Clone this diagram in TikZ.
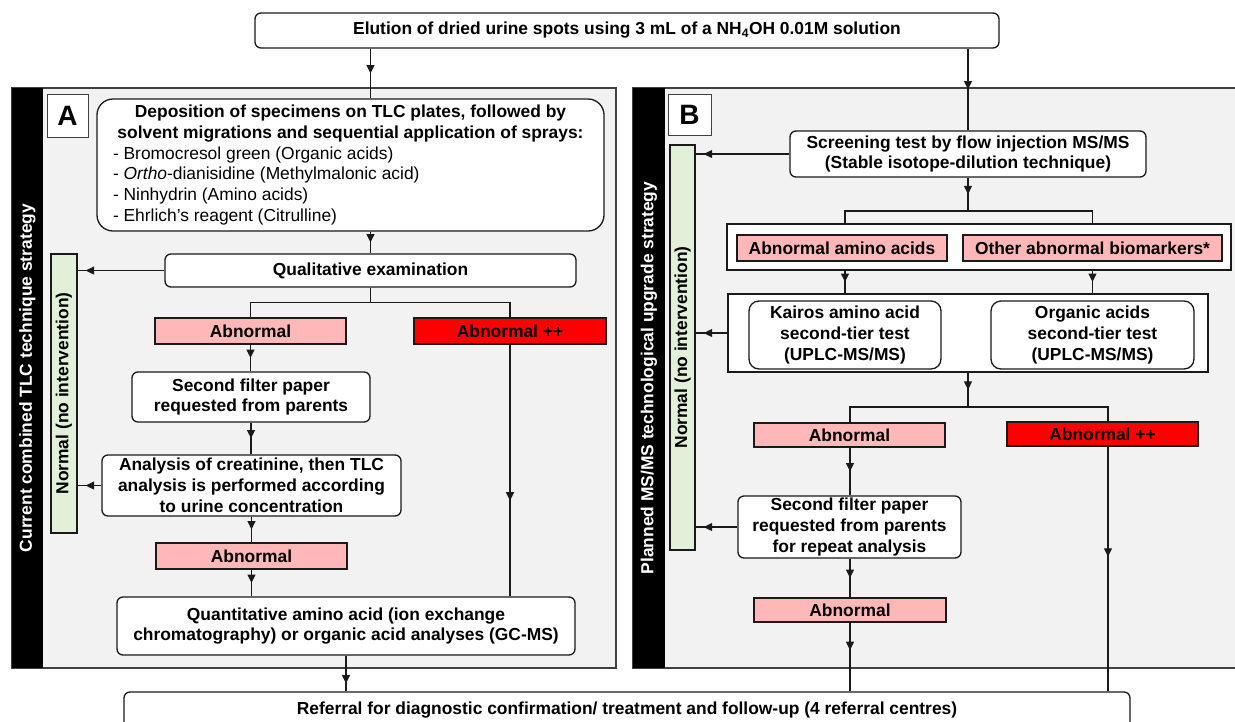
\documentclass[tikz,border=0pt]{standalone}
\usepackage{fontspec}
\setmainfont{Liberation Sans}
\usetikzlibrary{arrows.meta,decorations.markings,calc}
\definecolor{pinkc}{HTML}{FFB7B7}
\definecolor{redc}{HTML}{FF0000}
\definecolor{greenc}{HTML}{E2F0D9}
\definecolor{panelc}{HTML}{F2F2F2}
\definecolor{linec}{HTML}{1A1A1A}
\tikzset{
  every node/.style={font=\fontsize{17.4}{20.8}\selectfont\bfseries, inner sep=0pt, text=black},
  rbox/.style={draw=linec, line width=1.3pt, fill=white, rounded corners=6pt, align=center},
  pinkbox/.style={draw=linec, line width=1.3pt, fill=pinkc},
  redbox/.style={draw=linec, line width=1.3pt, fill=redc},
  framebox/.style={draw=linec, line width=1.3pt, fill=white},
  greenbar/.style={draw=linec, line width=1.3pt, fill=greenc, rotate=90},
  panel/.style={draw=black!75, line width=1.3pt, fill=panelc},
  strip/.style={fill=black},
  striptext/.style={text=white, rotate=90},
  labbox/.style={draw=black!75, line width=1pt, fill=white, font=\fontsize{28}{30}\selectfont\bfseries},
  conn/.style={line width=1.3pt, draw=linec},
  midarrow/.style={conn, postaction={decorate}, decoration={markings, mark=at position #1 with {\arrow{Triangle[length=8.5pt,width=8pt]}}}},
  midarrow/.default=0.5,
  endarrow/.style={conn, postaction={decorate}, decoration={markings, mark=at position -8pt with {\arrow{Triangle[length=8.5pt,width=8pt]}}}},
}
\begin{document}
\begin{tikzpicture}[x=1pt,y=-1pt]
\useasboundingbox[fill=white] (0,0) rectangle (1235,721);
% panels
\draw[panel] (12,88) rectangle (616,668);
\fill[strip] (12,88) rectangle (43,668);
\node[striptext] (stripA) at (27.5,378) {Current combined TLC technique strategy};
\draw[panel] (633,88) rectangle (1236,668);
\fill[strip] (633,88) rectangle (665,668);
\node[striptext] (stripB) at (649,378) {Planned MS/MS technological upgrade strategy};
\node[labbox, minimum width=41, minimum height=43] (labA) at (67.5,115.5) {A};
\node[labbox, minimum width=43, minimum height=41] (labB) at (689.5,114.5) {B};
% top and bottom
\node[rbox, minimum width=744, minimum height=35] (top) at (627,30.5) {Elution of dried urine spots using 3 mL of a NH\textsubscript{4}OH 0.01M solution};
\node[rbox, minimum width=1006, minimum height=36] (ref) at (627,710) {Referral for diagnostic confirmation/ treatment and follow-up (4 referral centres)};
% panel A
\node[rbox, rounded corners=16pt, minimum width=507, minimum height=132, text width=475, align=none] (dep) at (350.5,165)
 {\centering Deposition of specimens on TLC plates, followed by\\ solvent migrations and sequential application of sprays:\par
  \raggedright\mdseries - Bromocresol green (Organic acids)\\ - \textit{Ortho}-dianisidine (Methylmalonic acid)\\ - Ninhydrin (Amino acids)\\ - Ehrlich’s reagent (Citrulline)\par};
\node[rbox, minimum width=411, minimum height=33] (qual) at (370.5,270.5) {Qualitative examination};
\node[greenbar, minimum width=279, minimum height=26] (greenA) at (64,393.5) {Normal (no intervention)};
\node[pinkbox, minimum width=191, minimum height=26] (abnA) at (250.5,331) {Abnormal};
\node[redbox, minimum width=192, minimum height=26] (abnppA) at (510,331) {Abnormal ++};
\node[rbox, minimum width=238, minimum height=50] (sfA) at (251,397) {Second filter paper\\requested from parents};
\node[rbox, minimum width=299, minimum height=61] (anA) at (251.5,485.5) {Analysis of creatinine, then TLC\\analysis is performed according\\to urine concentration};
\node[pinkbox, minimum width=191, minimum height=26] (abn2A) at (251.5,556) {Abnormal};
\node[rbox, minimum width=458, minimum height=58] (quant) at (346,626) {Quantitative amino acid (ion exchange\\chromatography) or organic acid analyses (GC-MS)};
% panel B
\node[rbox, minimum width=356, minimum height=46] (scr) at (968,154) {Screening test by flow injection MS/MS\\(Stable isotope-dilution technique)};
\node[greenbar, minimum width=405, minimum height=25] (greenB) at (682.5,347.5) {Normal (no intervention)};
\node[framebox, minimum width=504, minimum height=46] (frame1) at (979,247) {};
\node[pinkbox, minimum width=210, minimum height=26] (aaa) at (842,248) {Abnormal amino acids};
\node[pinkbox, minimum width=259, minimum height=26] (oab) at (1092.5,248) {Other abnormal biomarkers*};
\node[framebox, minimum width=480, minimum height=78] (frame2) at (968,333) {};
\node[rbox, rounded corners=10pt, minimum width=192, minimum height=68] (kai) at (845,335) {Kairos amino acid\\second-tier test\\(UPLC-MS/MS)};
\node[rbox, rounded corners=10pt, minimum width=203, minimum height=68] (org) at (1092.5,335) {Organic acids\\second-tier test\\(UPLC-MS/MS)};
\node[pinkbox, minimum width=191, minimum height=24] (abnB) at (849.5,435) {Abnormal};
\node[redbox, minimum width=191, minimum height=24] (abnppB) at (1102.5,434) {Abnormal ++};
\node[rbox, minimum width=223, minimum height=62] (sfB) at (849.5,527) {Second filter paper\\requested from parents\\for repeat analysis};
\node[pinkbox, minimum width=192, minimum height=24] (abn2B) at (850,610) {Abnormal};
\coordinate (brA) at ($(qual.south)+(0,15)$);
% connectors top
\draw[midarrow] (top.south -| qual.north) -- (qual.north |- dep.north);
\draw[midarrow] (top.south -| scr.north) -- (scr.north);
% panel A connectors
\draw[midarrow] (qual.north |- dep.south) -- (qual.north);
\draw[endarrow] (qual.west) -- (greenA.south |- qual.west);
\draw[conn] (qual.south) -- (brA);
\draw[conn] (abnA.north) |- (brA) -| (abnppA.north);
\draw[midarrow] (abnA.south) -- (abnA.south |- sfA.north);
\draw[midarrow] (sfA.south) -- (sfA.south |- anA.north);
\draw[endarrow] (anA.west) -- (greenA.south |- anA.west);
\draw[midarrow] (anA.south) -- (anA.south |- abn2A.north);
\draw[midarrow] (abn2A.south) -- (abn2A.south |- quant.north);
\draw[midarrow=0.62] (abnppA.south) -- (abnppA.south |- quant.north);
\draw[midarrow=0.78] (quant.south) -- (quant.south |- ref.north);
% panel B connectors
\coordinate (brB1) at (968,211);
\coordinate (brB2) at (968,407);
\draw[endarrow] (scr.west) -- (greenB.south |- scr.west);
\draw[midarrow] (scr.south) -- (brB1);
\draw[conn] (kai.north |- frame1.north) |- (brB1) -| (oab.north |- frame1.north);
\draw[midarrow] (kai.north |- frame1.south) -- (kai.north |- frame2.north);
\draw[midarrow] (oab.south |- frame1.south) -- (oab.south |- frame2.north);
\draw[endarrow] (frame2.west) -- (greenB.south |- frame2.west);
\draw[midarrow] (frame2.south) -- (brB2);
\draw[conn] (abn2B.north |- abnB.north) |- (brB2) -| ([xshift=5.5pt]abnppB.north);
\draw[midarrow] (abn2B.north |- abnB.south) -- (abn2B.north |- sfB.north);
\draw[endarrow] (sfB.west) -- (greenB.south |- sfB.west);
\draw[midarrow] (abn2B.north |- sfB.south) -- (abn2B.north);
\draw[midarrow=0.4] (abn2B.south) -- (abn2B.south |- ref.north);
\draw[midarrow=0.45] ([xshift=5.5pt]abnppB.south) -- ([xshift=5.5pt]abnppB.south |- ref.north);
\end{tikzpicture}
\end{document}
